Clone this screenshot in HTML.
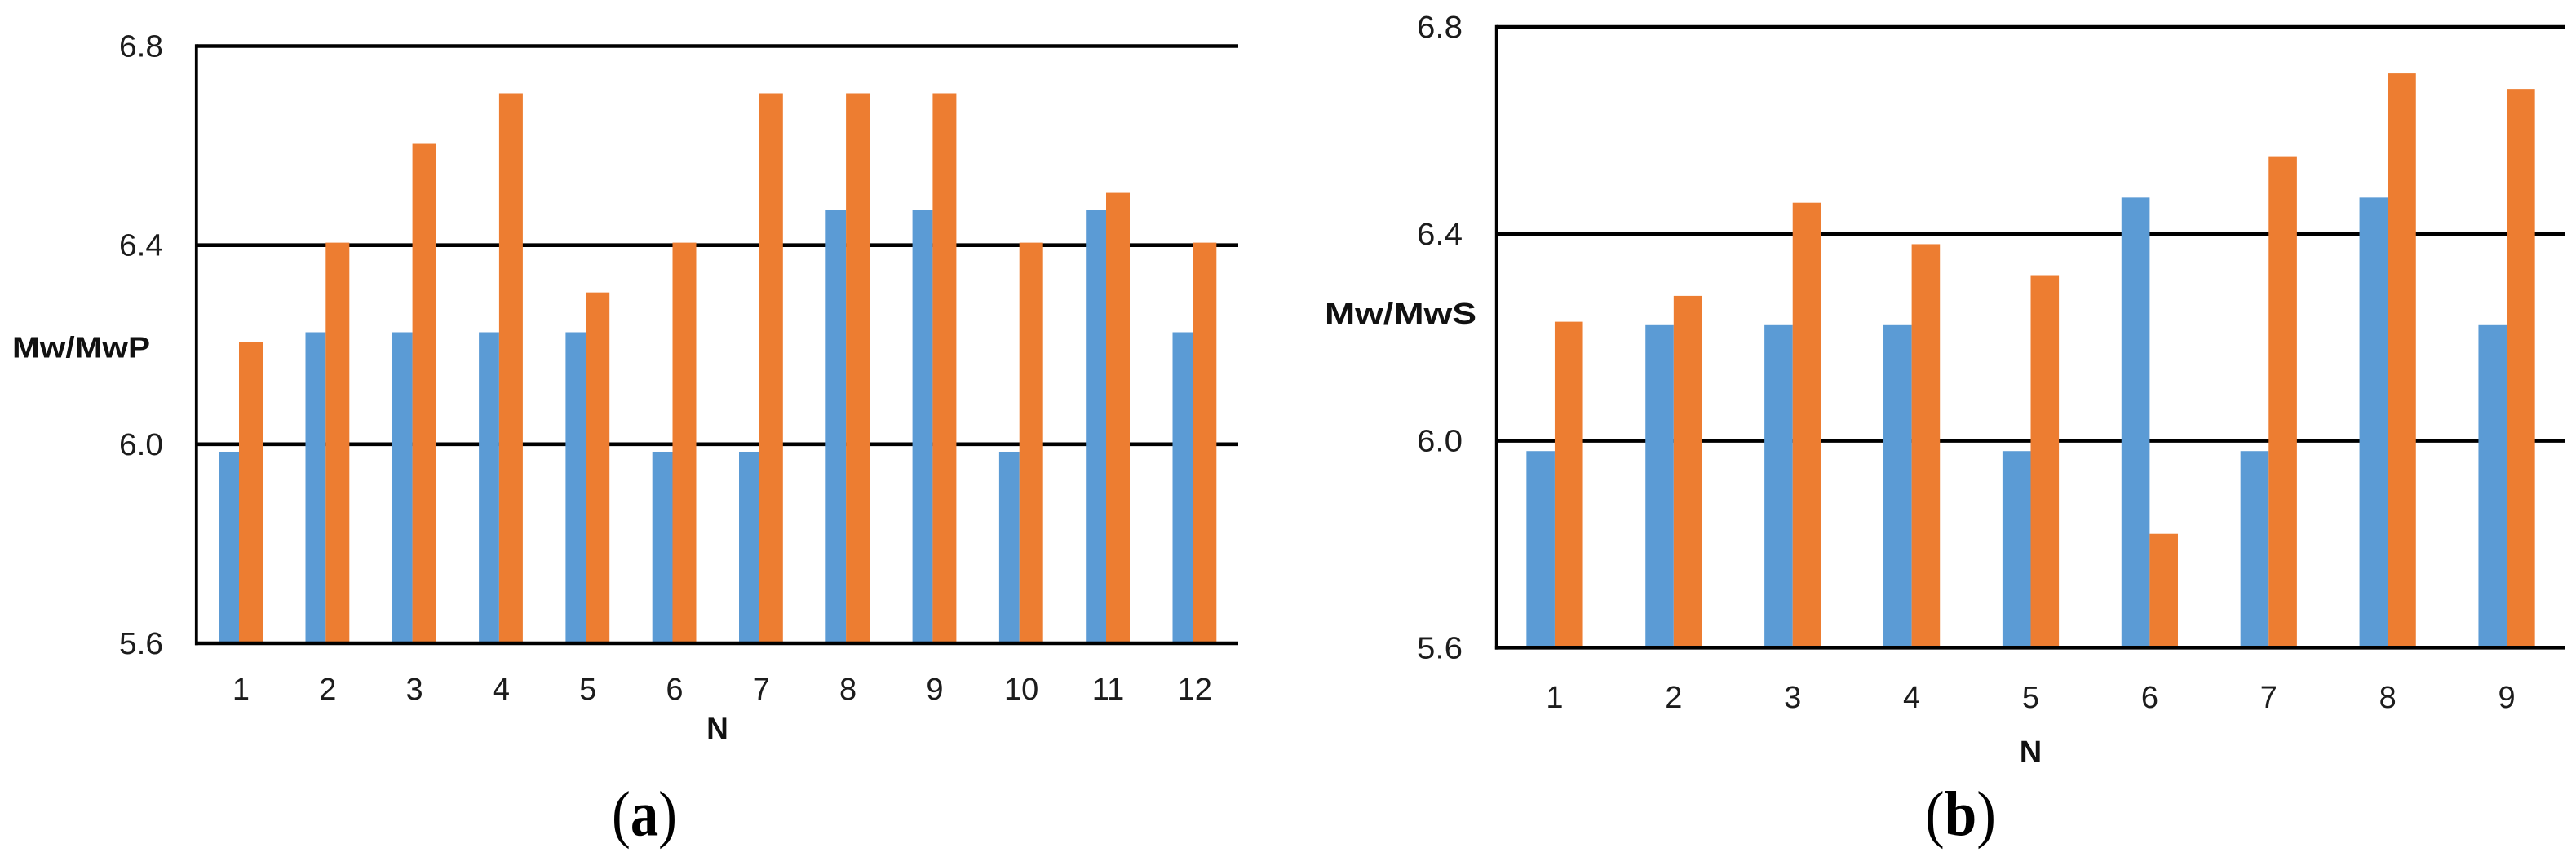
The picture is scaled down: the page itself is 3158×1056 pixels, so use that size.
<!DOCTYPE html>
<html lang="en">
<head>
<meta charset="utf-8">
<title>Mw/MwP and Mw/MwS bar charts</title>
<style>
html,body{margin:0;padding:0;background:#fff;}
svg{display:block;}
text{font-family:"Liberation Sans",sans-serif;fill:#1c1c1c;}
.caption{font-family:"Liberation Serif",serif;font-size:78px;fill:#000;}
.title{font-weight:bold;fill:#111;}
</style>
</head>
<body>
<svg id="figure" xmlns="http://www.w3.org/2000/svg" width="3158" height="1056" viewBox="0 0 3158 1056">
  <rect x="0" y="0" width="3158" height="1056" fill="#ffffff"/>

  <g id="chart-a"></g>
  <text class="title" x="15" y="438.5" font-size="36.5" textLength="169" lengthAdjust="spacingAndGlyphs">Mw/MwP</text>
  <text class="title" x="879.5" y="906" font-size="37" text-anchor="middle">N</text>
  <text class="caption" x="750" y="1024.5" textLength="80" lengthAdjust="spacingAndGlyphs">(<tspan font-weight="bold">a</tspan>)</text>

  <g id="chart-b"></g>
  <text class="title" x="1624" y="397" font-size="36.5" textLength="186" lengthAdjust="spacingAndGlyphs">Mw/MwS</text>
  <text class="title" x="2489.5" y="935" font-size="38" text-anchor="middle">N</text>
  <text class="caption" x="2360" y="1024.5" textLength="87" lengthAdjust="spacingAndGlyphs">(<tspan font-weight="bold">b</tspan>)</text>
</svg>

<script>
// Chart (a) data
const categoriesA = ["1", "2", "3", "4", "5", "6", "7", "8", "9", "10", "11", "12"];
const blueValuesA = [5.985, 6.225, 6.225, 6.225, 6.225, 5.985, 5.985, 6.47, 6.47, 5.985, 6.47, 6.225];
const orangeValuesA = [6.205, 6.405, 6.605, 6.705, 6.305, 6.405, 6.705, 6.705, 6.705, 6.405, 6.505, 6.405];

// Chart (b) data
const categoriesB = ["1", "2", "3", "4", "5", "6", "7", "8", "9"];
const blueValuesB = [5.98, 6.225, 6.225, 6.225, 5.98, 6.47, 5.98, 6.47, 6.225];
const orangeValuesB = [6.23, 6.28, 6.46, 6.38, 6.32, 5.82, 6.55, 6.71, 6.68];

// Shared axis ticks
const yTickValues = [5.6, 6.0, 6.4, 6.8];
const yTickLabels = ["5.6", "6.0", "6.4", "6.8"];

const SVG_NS = "http://www.w3.org/2000/svg";
const BLUE = "#5B9BD5";
const ORANGE = "#ED7D31";

function makeSvg(tag, attrs, parent) {
  const el = document.createElementNS(SVG_NS, tag);
  for (const key in attrs) {
    el.setAttribute(key, attrs[key]);
  }
  parent.appendChild(el);
  return el;
}

function renderChart(cfg) {
  const g = document.getElementById(cfg.id);
  const yMin = yTickValues[0];
  const yMax = yTickValues[yTickValues.length - 1];
  const yScale = function (v) {
    return cfg.bottom + (v - yMin) / (yMax - yMin) * (cfg.top - cfg.bottom);
  };
  const step = (cfg.bandRight - cfg.bandLeft) / cfg.categories.length;
  const xScale = function (i) {
    return cfg.bandLeft + (i + 0.5) * step;
  };

  // Gridlines (behind bars)
  yTickValues.forEach(function (v, i) {
    if (v === yMin) return;
    const line = makeSvg("line", {
      x1: cfg.left, x2: cfg.right, y1: yScale(v), y2: yScale(v),
      stroke: "#000", "stroke-width": 4.6
    }, g);
    
    
  });

  // Bars
  cfg.categories.forEach(function (cat, i) {
    const c = xScale(i);
    const blueBar = makeSvg("rect", {
      x: c - cfg.blueWidth, y: yScale(cfg.blue[i]),
      width: cfg.blueWidth, height: cfg.bottom - yScale(cfg.blue[i]),
      fill: BLUE
    }, g);
    
    

    const orangeBar = makeSvg("rect", {
      x: c, y: yScale(cfg.orange[i]),
      width: cfg.orangeWidth, height: cfg.bottom - yScale(cfg.orange[i]),
      fill: ORANGE
    }, g);
    
    

    const label = makeSvg("text", {
      x: c + cfg.labelDx, y: cfg.xLabelY, "text-anchor": "middle",
      "font-size": 38
    }, g);
    label.textContent = cat;
    
    
  });

  // Axis lines (on top of bars)
  const xAxis = makeSvg("line", {
    x1: cfg.left - 1.8, x2: cfg.right, y1: cfg.bottom, y2: cfg.bottom,
    stroke: "#000", "stroke-width": 4.6
  }, g);
  
  

  const yAxis = makeSvg("line", {
    x1: cfg.left, x2: cfg.left, y1: cfg.top - 2.3, y2: cfg.bottom + 2.3,
    stroke: "#000", "stroke-width": 3.8
  }, g);
  
  

  // Y tick labels
  yTickValues.forEach(function (v, i) {
    const t = makeSvg("text", {
      x: cfg.yLabelX, y: yScale(v) + cfg.yLabelDy, "font-size": 38,
      textLength: cfg.yLabelWidth, lengthAdjust: "spacingAndGlyphs"
    }, g);
    t.textContent = yTickLabels[i];
    
    
  });
}

renderChart({
  id: "chart-a",
  categories: categoriesA,
  blue: blueValuesA,
  orange: orangeValuesA,
  left: 240.8, right: 1518, top: 56.5, bottom: 789,
  bandLeft: 239.85, bandRight: 1515.45,
  blueWidth: 24.8, orangeWidth: 29,
  labelDx: 2.5, xLabelY: 858,
  yLabelX: 146, yLabelDy: 13, yLabelWidth: 54
});

renderChart({
  id: "chart-b",
  categories: categoriesB,
  blue: blueValuesB,
  orange: orangeValuesB,
  left: 1834.7, right: 3144, top: 33, bottom: 794.3,
  bandLeft: 1833, bandRight: 3146,
  blueWidth: 34.6, orangeWidth: 34.6,
  labelDx: 0, xLabelY: 868,
  yLabelX: 1737, yLabelDy: 13, yLabelWidth: 56
});
</script>
</body>
</html>
